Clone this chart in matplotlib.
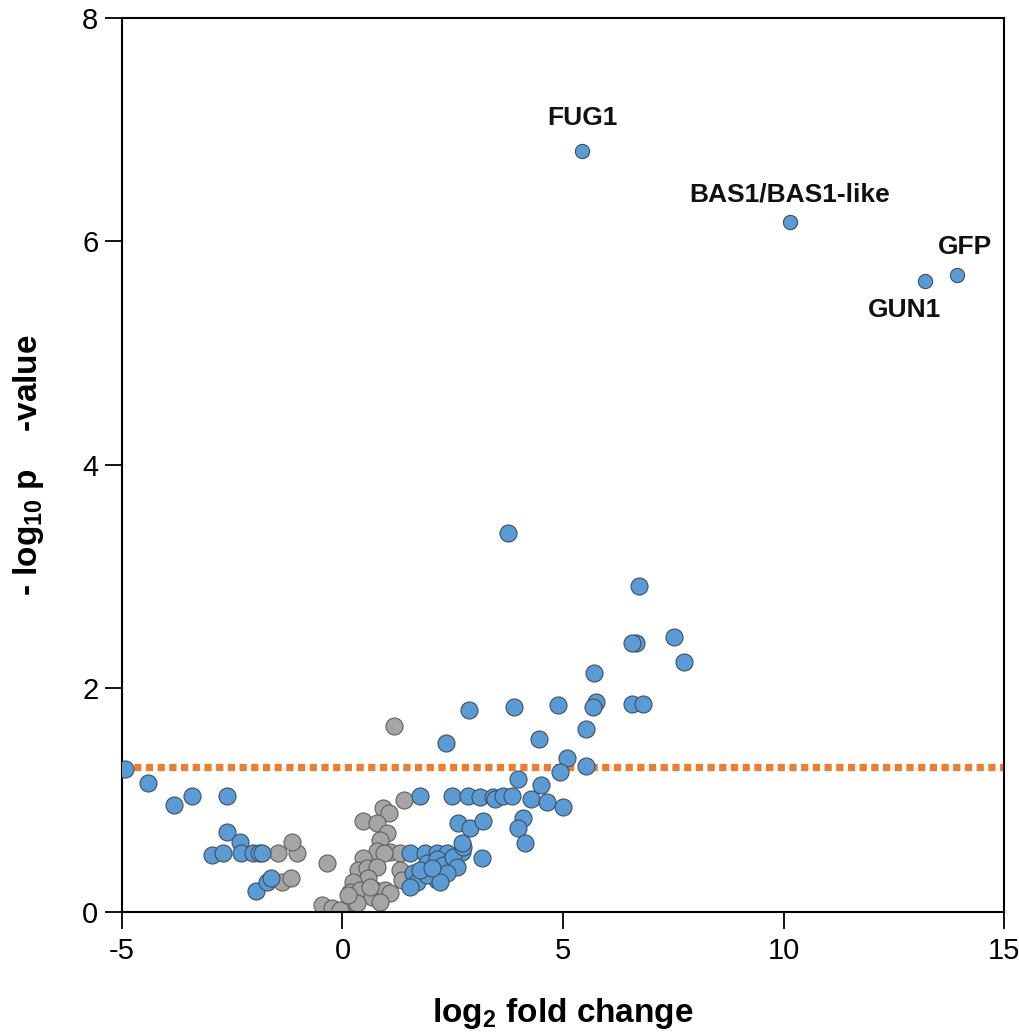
import matplotlib
matplotlib.use("Agg")
import matplotlib.pyplot as plt

plt.rcParams['font.family'] = ['Liberation Sans', 'DejaVu Sans']
plt.rcParams['mathtext.fontset'] = 'custom'
plt.rcParams['mathtext.rm'] = 'Liberation Sans'
plt.rcParams['mathtext.bf'] = 'Liberation Sans:bold'

# Non-significant proteins (grey)
grey_x = [-1.46, -1.03, -1.15, -1.37, -1.17, -0.35, 1.17, 1.39, 0.92, 1.05, 0.46, 0.78,
          1.01, 0.85, 0.78, 1.08, 1.30, 0.94, 0.46, 0.35, 0.56, 0.78, 0.58, 0.74, 0.24,
          0.17, 0.40, 0.67, 0.96, 1.08, 1.30, 1.35, -0.46, -0.24, 0.01, 0.17, 0.33,
          -0.06, 0.12, 0.85, 0.62]
grey_y = [0.53, 0.53, 0.63, 0.27, 0.30, 0.44, 1.66, 1.00, 0.93, 0.89, 0.81, 0.80,
          0.71, 0.64, 0.55, 0.54, 0.53, 0.53, 0.48, 0.38, 0.39, 0.40, 0.30, 0.20, 0.27,
          0.18, 0.20, 0.13, 0.20, 0.17, 0.38, 0.29, 0.06, 0.04, 0.02, 0.10, 0.08,
          0.02, 0.15, 0.09, 0.22]

# Enriched / depleted proteins (blue)
blue_x = [-4.93, -4.41, -3.82, -3.41, -2.62, -2.62, -2.32, -2.96, -2.71, -2.30, -2.03,
          -1.89, -1.83, -1.96, -1.71, -1.62,
          3.75, 6.72, 7.52, 6.66, 6.56, 7.74, 5.70, 6.56, 6.81, 5.75, 5.68, 4.89, 3.89,
          2.87, 2.35, 4.46, 5.52, 5.09, 4.93, 5.52, 3.98, 4.50,
          1.76, 2.48, 2.85, 3.12, 3.41, 3.46, 3.64, 3.84, 4.27, 4.64, 5.00,
          2.62, 2.89, 3.19, 4.09, 3.98, 4.14, 3.16,
          1.53, 1.87, 2.14, 2.37, 2.71,
          1.60, 1.69, 1.53, 1.92, 2.14, 2.28, 2.51, 2.73, 2.60, 2.14, 2.37, 1.92, 1.76,
          2.21, 2.71, 2.03]
blue_y = [1.28, 1.15, 0.96, 1.04, 1.04, 0.72, 0.63, 0.51, 0.53, 0.53, 0.53,
          0.53, 0.53, 0.19, 0.27, 0.30,
          3.39, 2.92, 2.46, 2.41, 2.41, 2.24, 2.14, 1.86, 1.86, 1.88, 1.83, 1.85, 1.83,
          1.81, 1.51, 1.55, 1.64, 1.38, 1.25, 1.31, 1.19, 1.14,
          1.04, 1.04, 1.04, 1.03, 1.03, 1.01, 1.04, 1.04, 1.01, 0.98, 0.94,
          0.80, 0.75, 0.81, 0.84, 0.75, 0.62, 0.48,
          0.53, 0.53, 0.53, 0.53, 0.54,
          0.35, 0.27, 0.22, 0.44, 0.47, 0.42, 0.49, 0.58, 0.40, 0.29, 0.35, 0.33, 0.38,
          0.27, 0.62, 0.39]

# Labelled proteins
label_names = ["FUG1", "BAS1/BAS1-like", "GUN1", "GFP"]
label_x = [5.43, 10.15, 13.21, 13.93]
label_y = [6.81, 6.17, 5.65, 5.70]
label_offsets = [(0, 24), (0, 20), (-15, -21), (6, 20)]

threshold = 1.301  # -log10(0.05)

fig = plt.figure(figsize=(10.19, 10.32), dpi=100)
ax = fig.add_axes([0.1197, 0.1163, 0.8656, 0.8663])

blue = '#5B9BD5'
grey = '#A5A5A5'
edge = '#3F4F5F'

ax.plot([-5, 15], [threshold, threshold], color='#ED7D31', lw=5.2,
        linestyle=(0, (1, 0.62)), solid_capstyle='butt', dash_capstyle='butt', zorder=1)

ax.scatter(grey_x, grey_y, s=150, color=grey, edgecolors='#606060', linewidths=0.8, zorder=2)
ax.scatter(blue_x, blue_y, s=150, color=blue, edgecolors=edge, linewidths=0.8, zorder=3)
ax.scatter(label_x, label_y, s=105, color=blue, edgecolors=edge, linewidths=0.8, zorder=3)

for name, x, y, off in zip(label_names, label_x, label_y, label_offsets):
    ax.annotate(name, (x, y), xytext=off, textcoords='offset points',
                ha='center', va='center', fontsize=19, fontweight='bold', color='#111111')

ax.set_xlim(-5, 15)
ax.set_ylim(0, 8)
ax.set_xticks([-5, 0, 5, 10, 15])
ax.set_xticklabels(['-5', '0', '5', '10', '15'])
ax.set_yticks([0, 2, 4, 6, 8])

for sp in ax.spines.values():
    sp.set_linewidth(1.5)
    sp.set_color('black')

ax.tick_params(axis='both', direction='out', length=12, width=1.3, labelsize=21, pad=6)
ax.tick_params(axis='y', pad=5)

ax.set_xlabel(r'log$_{\mathbf{2}}$ fold change', fontsize=24, fontweight='bold', labelpad=22)
ax.set_ylabel(r'- log$_{\mathbf{10}}$ p    -value', fontsize=24, fontweight='bold', labelpad=26)

fig.savefig('out.png', dpi=100, facecolor='white')
